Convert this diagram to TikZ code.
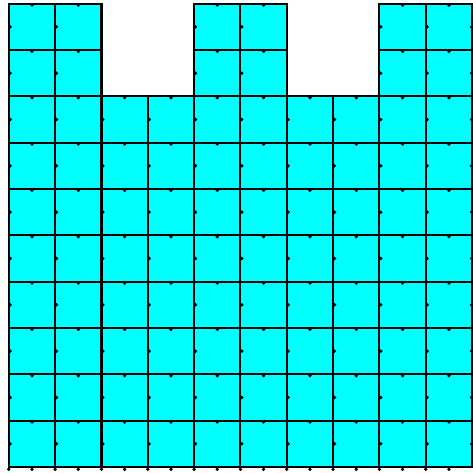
\documentclass[tikz,border=0pt]{standalone}
\usepackage{tikz}

\begin{document}
\begin{tikzpicture}[
    elem/.style={fill={rgb,255:red,0;green,255;blue,255}, draw=black, line width=1.3pt},
    nd/.style={fill=black}]
  \useasboundingbox (-0.19,-0.13) rectangle (10.02,10.08);
  % Lower block of elements
  \foreach \i in {0,...,9} {
    \foreach \j in {0,...,7} {
      \filldraw[elem] (\i,\j) rectangle ++(1,1);
    }
  }
  % Three columns on top
  \foreach \i in {0,1,4,5,8,9} {
    \foreach \j in {8,9} {
      \filldraw[elem] (\i,\j) rectangle ++(1,1);
    }
  }
  % Mid-side nodes (drawn a little inside each element)
  \foreach \i in {0,...,9} {
    \foreach \j in {0,...,7} {
      \fill[nd] (\i+0.5,\j+1-0.03) circle (0.04);
      \fill[nd] (\i+0.03,\j+0.5) circle (0.04);
    }
  }
  \foreach \i in {0,1,4,5,8,9} {
    \foreach \j in {8,9} {
      \fill[nd] (\i+0.5,\j+1-0.03) circle (0.04);
      \fill[nd] (\i+0.03,\j+0.5) circle (0.04);
    }
  }
  % Right edge and bottom edge nodes
  \foreach \j in {0,...,9} {
    \fill[nd] (10-0.01,\j+0.5) circle (0.04);
  }
  \foreach \i in {0,...,9} {
    \fill[nd] (\i,-0.05) circle (0.04);
    \fill[nd] (\i+0.5,-0.05) circle (0.04);
  }
\end{tikzpicture}
\end{document}
